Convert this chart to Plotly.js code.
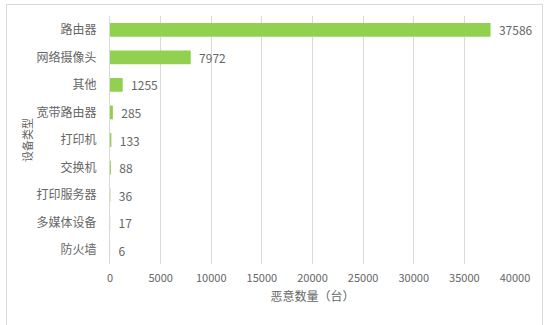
<!DOCTYPE html>
<html>
<head>
<meta charset="utf-8">
<script src="https://cdn.plot.ly/plotly-3.0.1.min.js"></script>
<style>
html,body{margin:0;padding:0;background:#fff;}
#wrap{position:relative;width:550px;height:325px;overflow:hidden;}
#chart{width:550px;height:325px;}
#frame{position:absolute;left:6px;top:4px;width:537px;height:340px;border:1px solid #d9d9d9;box-sizing:border-box;pointer-events:none;}
</style>
</head>
<body>
<div id="wrap"><div id="chart"></div><div id="frame"></div></div>
<script>
const categories = ["路由器","网络摄像头","其他","宽带路由器","打印机","交换机","打印服务器","多媒体设备","防火墙"];
const counts = [37586, 7972, 1255, 285, 133, 88, 36, 17, 6];
const xTicks = [0,5000,10000,15000,20000,25000,30000,35000,40000];

const font = '"Noto Sans CJK SC", "Microsoft YaHei", sans-serif';
const trace = {
  type: 'bar',
  orientation: 'h',
  y: categories,
  x: counts,
  text: counts.map(String),
  textposition: 'outside',
  constraintext: 'none',
  texttemplate: '  %{text}',
  textfont: {family: font, size: 12, color: '#666666'},
  marker: {color: '#92D050'},
  cliponaxis: false,
  hoverinfo: 'none'
};
const layout = {
  width: 550, height: 325,
  margin: {l: 110, r: 35, t: 16, b: 61},
  paper_bgcolor: '#fff', plot_bgcolor: '#fff',
  showlegend: false,
  bargap: 0.5,
  font: {family: font, color: '#595959', size: 11},
  xaxis: {
    range: [0, 40000],
    tickvals: xTicks,
    ticktext: xTicks.map(String),
    showgrid: true, gridcolor: '#d9d9d9', gridwidth: 1,
    zeroline: false, showline: false, ticks: '',
    tickfont: {size: 11, color: '#666666'},
    ticklabelstandoff: 6,
    title: {text: '恶意数量（台）', font: {size: 12, color: '#666666'}, standoff: 8},
    automargin: false, fixedrange: true
  },
  yaxis: {
    autorange: 'reversed',
    showgrid: false, zeroline: false,
    showline: true, linecolor: '#d9d9d9', linewidth: 1,
    ticks: '', ticklabelstandoff: 10,
    tickfont: {size: 12, color: '#666666'},
    title: {text: '设备类型', font: {size: 11, color: '#666666'}},
    automargin: false, fixedrange: true
  }
};
Plotly.newPlot('chart', [trace], layout, {displayModeBar: false, staticPlot: true});
</script>
</body>
</html>
